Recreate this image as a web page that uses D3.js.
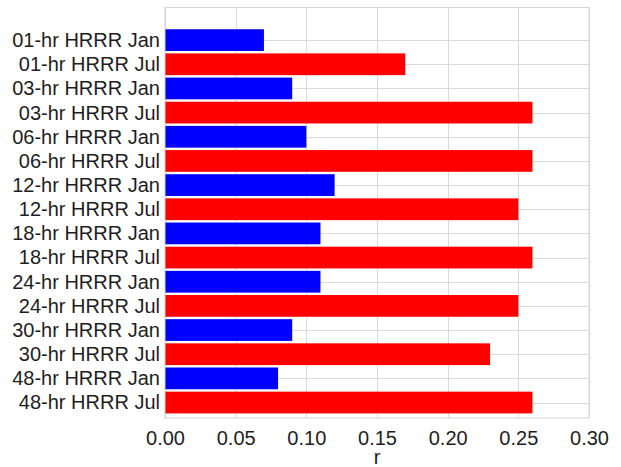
<!DOCTYPE html>
<html>
<head>
<meta charset="utf-8">
<script src="https://cdn.jsdelivr.net/npm/d3@7"></script>
<style>
  html, body { margin: 0; padding: 0; background: #fff; }
  svg { display: block; }
  text { font-family: "Liberation Sans", Arial, Helvetica, sans-serif; fill: #1e1e1e; }
</style>
</head>
<body>
<svg id="chart" width="621" height="467"></svg>
<script>
// Correlation r by forecast lead time and month
const categories = [
  "01-hr HRRR Jan", "01-hr HRRR Jul",
  "03-hr HRRR Jan", "03-hr HRRR Jul",
  "06-hr HRRR Jan", "06-hr HRRR Jul",
  "12-hr HRRR Jan", "12-hr HRRR Jul",
  "18-hr HRRR Jan", "18-hr HRRR Jul",
  "24-hr HRRR Jan", "24-hr HRRR Jul",
  "30-hr HRRR Jan", "30-hr HRRR Jul",
  "48-hr HRRR Jan", "48-hr HRRR Jul"
];
const rValues = [
  0.07, 0.17,
  0.09, 0.26,
  0.10, 0.26,
  0.12, 0.25,
  0.11, 0.26,
  0.11, 0.25,
  0.09, 0.23,
  0.08, 0.26
];
const months = ["Jan", "Jul"];
const monthColors = ["#0000ff", "#ff0000"];
const xTicks = [0.00, 0.05, 0.10, 0.15, 0.20, 0.25, 0.30];
const xLabel = "r";

const svg = d3.select("#chart");
const plot = { left: 165, right: 589, top: 7.5, bottom: 418 };

const x = d3.scaleLinear().domain([0, 0.30]).range([plot.left, plot.right]);
// category index -> vertical centre
const y = d3.scaleLinear().domain([-1.35, 15.64]).range([plot.top, plot.bottom]);
const step = y(1) - y(0);
const barH = step * 0.9;
const color = d3.scaleOrdinal().domain(months).range(monthColors);

const data = categories.map((c, i) => ({ cat: c, i, r: rValues[i], month: c.slice(-3) }));

// grid
const grid = svg.append("g").attr("stroke", "#dadada").attr("stroke-width", 1);
grid.selectAll("line.v").data(xTicks).join("line")
  .attr("x1", d => Math.round(x(d)) + 0.5).attr("x2", d => Math.round(x(d)) + 0.5)
  .attr("y1", plot.top).attr("y2", plot.bottom);
grid.selectAll("line.h").data(data).join("line")
  .attr("x1", plot.left).attr("x2", plot.right)
  .attr("y1", d => Math.round(y(d.i)) + 0.5).attr("y2", d => Math.round(y(d.i)) + 0.5);

// bars
svg.append("g").selectAll("rect").data(data).join("rect")
  .attr("x", x(0))
  .attr("y", d => y(d.i) - barH / 2)
  .attr("width", d => x(d.r) - x(0))
  .attr("height", barH)
  .attr("fill", d => color(d.month));

// frame
svg.append("rect")
  .attr("x", plot.left).attr("y", plot.top)
  .attr("width", plot.right - plot.left).attr("height", plot.bottom - plot.top)
  .attr("fill", "none").attr("stroke", "#d4d4d4").attr("stroke-width", 1);

// x axis labels
const xAxis = d3.axisBottom(x).tickValues(xTicks).tickFormat(d3.format(".2f")).tickSize(0).tickPadding(13);
const gx = svg.append("g").attr("transform", `translate(0,${plot.bottom})`).call(xAxis);
gx.select(".domain").remove();
gx.selectAll("text").attr("font-size", 20).attr("font-family", null).attr("fill", null);

// y axis labels
const yAxis = d3.axisLeft(y).tickValues(data.map(d => d.i)).tickFormat(i => categories[i]).tickSize(0).tickPadding(5);
const gy = svg.append("g").attr("transform", `translate(${plot.left},0)`).call(yAxis);
gy.select(".domain").remove();
gy.selectAll("text").attr("font-size", 20).attr("font-family", null).attr("fill", null);

// axis title
svg.append("text")
  .attr("x", (plot.left + plot.right) / 2)
  .attr("y", 464)
  .attr("text-anchor", "middle")
  .attr("font-size", 20)
  .text(xLabel);
</script>
</body>
</html>
